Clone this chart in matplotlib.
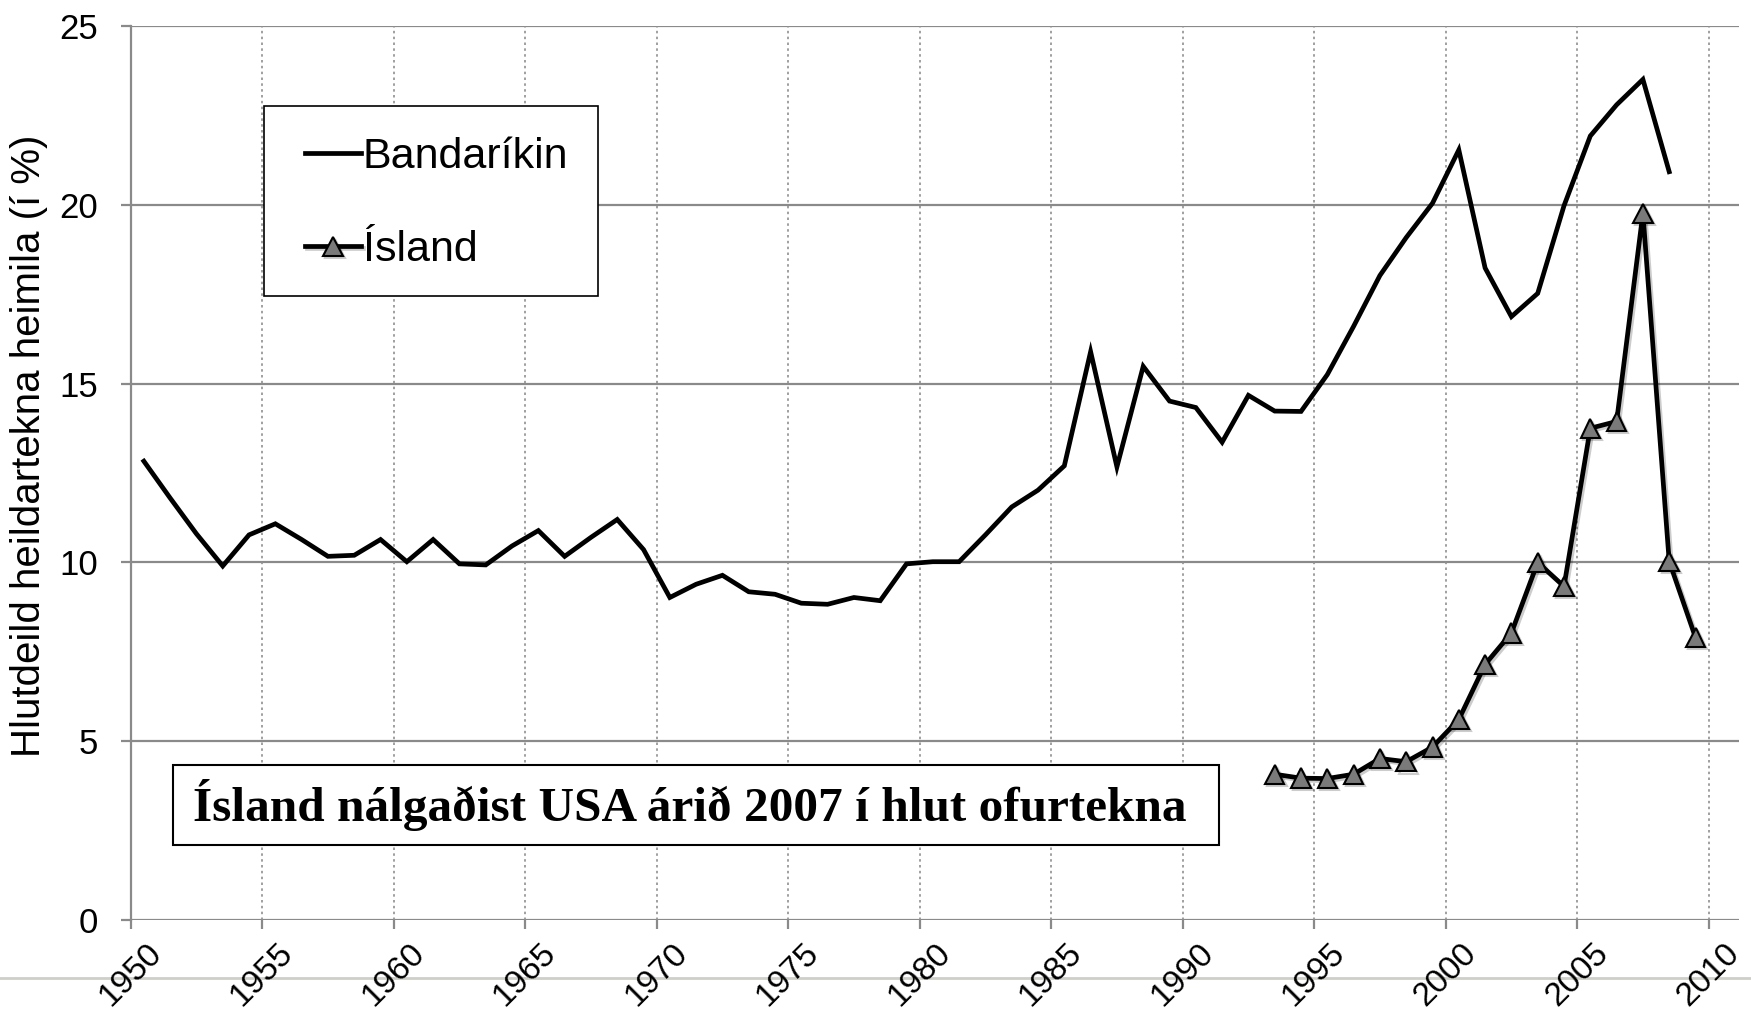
import matplotlib
matplotlib.use("Agg")
import matplotlib.pyplot as plt
import matplotlib.patheffects as pe
from matplotlib.lines import Line2D
from matplotlib.patches import Rectangle
from matplotlib.transforms import ScaledTranslation

# data (values in %)
us_years = list(range(1950, 2009))
us_share = [12.83, 11.8, 10.8, 9.9, 10.77, 11.08, 10.64, 10.17, 10.2, 10.64,
            10.02, 10.64, 9.96, 9.93, 10.46, 10.89, 10.17, 10.7, 11.2, 10.36,
            9.02, 9.39, 9.64, 9.18, 9.11, 8.86, 8.83, 9.02, 8.93, 9.96,
            10.02, 10.02, 10.77, 11.55, 12.02, 12.7, 15.89, 12.67, 15.48, 14.51,
            14.33, 13.36, 14.67, 14.23, 14.22, 15.25, 16.6, 18.02, 19.08, 20.04,
            21.53, 18.23, 16.87, 17.52, 19.97, 21.92, 22.79, 23.5, 20.92]

is_years = list(range(1993, 2010))
is_share = [4.08, 3.97, 3.96, 4.08, 4.52, 4.43, 4.84, 5.61, 7.15, 8.03,
            10.0, 9.33, 13.75, 13.94, 19.76, 10.03, 7.9]

xticks = list(range(1950, 2011, 5))
yticks = [0, 5, 10, 15, 20, 25]

plt.rcParams['font.family'] = ['Liberation Sans', 'DejaVu Sans']

fig = plt.figure(figsize=(17.51, 10.10), dpi=100)
ax = fig.add_axes([0.07464, 0.0889, 0.9183, 0.8856])

grid_col = '#8a8a8a'

# points sit in the middle of each year category
ax.plot([y + 0.5 for y in us_years], us_share, color='black', lw=3.4,
        solid_joinstyle='miter', label='Bandaríkin', zorder=3)
ax.plot([y + 0.5 for y in is_years], is_share, color='black', lw=3.4,
        marker='^', markersize=14, markerfacecolor='#7a7a7a',
        markeredgecolor='black', markeredgewidth=1.5, label='Ísland', zorder=4,
        path_effects=[pe.SimpleLineShadow(offset=(1.5, -1.5), alpha=0.2),
                      pe.Normal()])

ax.set_xlim(1950, 2011.14)
ax.set_ylim(0, 25)
ax.set_xticks(xticks)
ax.set_yticks(yticks)
ax.set_xticklabels([str(t) for t in xticks], rotation=45, ha='center',
                   fontsize=24)
ax.set_yticklabels([str(t) for t in yticks], fontsize=25)
shift = ScaledTranslation(-12 / 100, 0, fig.dpi_scale_trans)
for lbl in ax.get_xticklabels():
    lbl.set_transform(lbl.get_transform() + shift)

for y in yticks:
    ax.axhline(y, color=grid_col, lw=1.6, zorder=1)
for x in xticks[1:]:
    ax.axvline(x, color='#909090', lw=1.2, ls=(0, (1.5, 2.0)), zorder=1)

for s in ['top', 'right', 'bottom']:
    ax.spines[s].set_visible(False)
ax.spines['left'].set_color(grid_col)
ax.spines['left'].set_linewidth(1.6)

ax.tick_params(axis='y', length=7, width=1.6, color=grid_col, pad=16.5)
ax.tick_params(axis='x', length=6.5, width=1.6, color=grid_col, pad=6)

ax.set_ylabel('Hlutdeild heildartekna heimila (í %)', fontsize=29)
ax.yaxis.set_label_coords(-0.0514, 0.53)

# legend frame drawn separately so its size matches the original box
ax.add_patch(Rectangle((0.0826, 0.698), 0.2083, 0.212, transform=ax.transAxes,
                       fc='white', ec='black', lw=1.2, zorder=4.5))
ax.legend(loc='upper left', bbox_to_anchor=(0.0909, 0.9064),
          borderaxespad=0, fontsize=31, handlelength=1.3,
          handletextpad=0.05, labelspacing=1.23, borderpad=0.65,
          frameon=False)

# note box
ax.add_patch(Rectangle((1951.61, 2.09), 39.79, 2.25, fc='white', ec='black',
                       lw=1.5, zorder=5))
ax.text(1971.25, 3.21, 'Ísland nálgaðist USA árið 2007 í hlut ofurtekna',
        family=['Liberation Serif', 'DejaVu Serif'], fontweight='bold',
        fontsize=35.5, ha='center', va='center', zorder=6)

# thin separator line of the slide near the bottom
fig.add_artist(Line2D([0, 1], [0.0317, 0.0317], transform=fig.transFigure,
                      color='#cfcfc7', lw=2, zorder=0))

fig.savefig('out.png', dpi=100)
